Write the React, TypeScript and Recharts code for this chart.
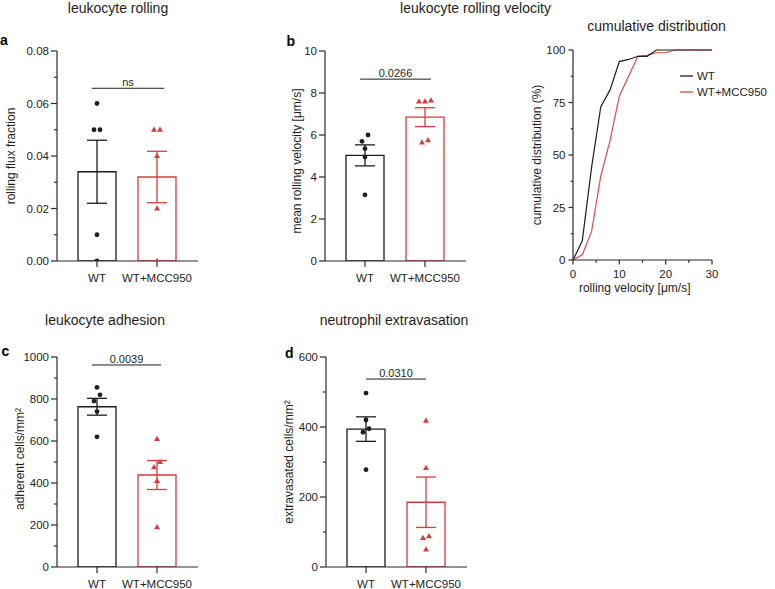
import React from 'react';
import {
  ComposedChart,
  LineChart,
  Bar,
  Cell,
  ErrorBar,
  Scatter,
  Line,
  XAxis,
  YAxis,
  ReferenceLine,
  Legend
} from 'recharts';

const groups = ['WT', 'WT+MCC950'];

// a: leukocyte rolling
const rollingWT = [0.06, 0.05, 0.05, 0.01, 0.0];
const rollingMCC = [0.05, 0.05, 0.04, 0.02, 0.0];
const rollingMean = [0.034, 0.032];
const rollingSem = [0.012, 0.0098];

// b: mean rolling velocity
const velocityWT = [6.0, 5.7, 5.35, 4.95, 3.15];
const velocityMCC = [7.65, 7.6, 7.6, 5.75, 5.65];
const velocityMean = [5.03, 6.85];
const velocitySem = [0.5, 0.45];

// c: leukocyte adhesion
const adhesionWT = [855, 820, 790, 740, 620];
const adhesionMCC = [610, 500, 475, 410, 190];
const adhesionMean = [763, 438];
const adhesionSem = [40, 69];

// d: neutrophil extravasation
const extravasationWT = [497, 420, 395, 385, 278];
const extravasationMCC = [418, 283, 88, 83, 50];
const extravasationMean = [394, 185];
const extravasationSem = [35, 72];

// cumulative distribution of rolling velocity
const velocityBins = [0, 2, 4, 6, 8, 10, 12, 14, 16, 18, 20, 22, 24, 26, 28, 30];
const cumWT = [0, 9, 44, 73, 81, 94.5, 95.5, 97, 97, 100, 100, 100, 100, 100, 100, 100];
const cumMCC = [0, 2.5, 13.5, 40, 57, 78, 87.5, 97, 97.5, 98.7, 98.7, 100, 100, 100, 100, 100];

const FONT = '"Liberation Sans", Arial, Helvetica, sans-serif';
const BLACK = '#1e1e1e';
const RED = '#d83c3c';
const RED_LINE = '#e04a4a';
const AXIS = '#2a2a2a';

// spread points with nearly equal values side by side, like a beeswarm
function swarm(values: number[], group: number, tol: number, step = 0.1) {
  const sorted = [...values].sort((a, b) => a - b);
  const out: { x: number; y: number }[] = [];
  let cluster: number[] = [];
  const flush = () => {
    cluster.forEach((v, i) => out.push({ x: group + (i - (cluster.length - 1) / 2) * step, y: v }));
    cluster = [];
  };
  sorted.forEach((v) => {
    if (cluster.length && v - cluster[cluster.length - 1] > tol) flush();
    cluster.push(v);
  });
  flush();
  return out;
}

const isMajor = (v: number, major: number[]) => major.some((m) => Math.abs(m - v) < 1e-9);

const yTick = (major: number[], fmt: (v: number) => string, size: number, margin: number) =>
  (p: any) => {
    const ax = p.x + size + margin;
    const big = isMajor(p.payload.value, major);
    return (
      <g>
        <line x1={ax - (big ? size : size / 2)} x2={ax} y1={p.y} y2={p.y} stroke={AXIS} strokeWidth={1.2} />
        {big && (
          <text x={p.x} y={p.y} dy="0.36em" textAnchor="end" fontSize={11.5} fill={BLACK}>
            {fmt(p.payload.value)}
          </text>
        )}
      </g>
    );
  };

const xTick = (major: number[], size: number, margin: number) =>
  (p: any) => {
    const ay = p.y - size - margin;
    const big = isMajor(p.payload.value, major);
    return (
      <g>
        <line x1={p.x} x2={p.x} y1={ay} y2={ay + (big ? size : size * 0.6)} stroke={AXIS} strokeWidth={1.2} />
        {big && (
          <text x={p.x} y={p.y} dy="0.71em" textAnchor="middle" fontSize={11.5} fill={BLACK}>
            {p.payload.value}
          </text>
        )}
      </g>
    );
  };

const yTitle = (text: string, x: number, dy = 0) =>
  (props: any) => {
    const vb = props.viewBox;
    const cy = (vb && vb.height ? vb.y + vb.height / 2 : 155) + dy;
    return (
      <text x={x} y={cy} transform={`rotate(-90 ${x} ${cy})`} textAnchor="middle" fontSize={12} fill={BLACK}>
        {text}
      </text>
    );
  };

const dot = (p: any) => <circle cx={p.cx} cy={p.cy} r={2.4} fill={BLACK} />;
const tri = (p: any) => (
  <path d={`M${p.cx},${p.cy - 3.2} L${p.cx + 3},${p.cy + 2.1} L${p.cx - 3},${p.cy + 2.1} Z`} fill={RED} />
);

interface Sig {
  text: string;
  y: number;
  x1: number;
  x2: number;
}

interface BarPanelProps {
  left: number;
  top: number;
  means: number[];
  sems: number[];
  wt: number[];
  mcc: number[];
  max: number;
  ticks: number[];
  major: number[];
  fmt: (v: number) => string;
  yLabel: string;
  labelX: number;
  labelDy?: number;
  sig: Sig;
}

function BarPanel({ left, top, means, sems, wt, mcc, max, ticks, major, fmt, yLabel, labelX, labelDy = 0, sig }: BarPanelProps) {
  const data = groups.map((g, i) => ({
    group: g,
    mean: means[i],
    semWT: i === 0 ? sems[i] : undefined,
    semMCC: i === 1 ? sems[i] : undefined
  }));
  const tol = max * 0.032;
  const pad = { left: 10, right: 11 };

  return (
    <div style={{ position: 'absolute', left, top }}>
      <ComposedChart width={210} height={291} data={data} margin={{ top: 51, right: 12, bottom: 0, left: 0 }}>
        <XAxis
          dataKey="group"
          type="category"
          height={30}
          padding={pad}
          tickSize={6}
          tickMargin={6.5}
          stroke={AXIS}
          strokeWidth={1.2}
          tick={{ fill: BLACK, fontSize: 11.5 }}
        />
        <XAxis xAxisId="num" dataKey="x" type="number" domain={[-0.5, 1.5]} padding={pad} hide />
        <YAxis
          width={57}
          domain={[0, max]}
          ticks={ticks}
          interval={0}
          allowDataOverflow
          tickLine={false}
          tickSize={6}
          tickMargin={2}
          stroke={AXIS}
          strokeWidth={1.2}
          tick={yTick(major, fmt, 6, 2)}
          label={yTitle(yLabel, labelX, labelDy)}
        />
        <Bar dataKey="mean" barSize={38} fill="#ffffff" strokeWidth={1.3} isAnimationActive={false}>
          {data.map((d, i) => (
            <Cell key={d.group} stroke={i === 0 ? BLACK : RED} />
          ))}
          <ErrorBar dataKey="semWT" width={10} stroke={BLACK} strokeWidth={1.3} />
          <ErrorBar dataKey="semMCC" width={10} stroke={RED} strokeWidth={1.3} />
        </Bar>
        <Scatter xAxisId="num" data={swarm(wt, 0, tol)} dataKey="y" shape={dot} isAnimationActive={false} />
        <Scatter xAxisId="num" data={swarm(mcc, 1, tol)} dataKey="y" shape={tri} isAnimationActive={false} />
        <ReferenceLine
          xAxisId="num"
          segment={[{ x: sig.x1, y: sig.y }, { x: sig.x2, y: sig.y }]}
          stroke={BLACK}
          strokeWidth={1}
          label={{ value: sig.text, position: 'top', offset: 2, fontSize: 11, fill: BLACK }}
        />
      </ComposedChart>
    </div>
  );
}

function CumulativePanel() {
  const data = velocityBins.map((v, i) => ({ v, wt: cumWT[i], mcc: cumMCC[i] }));
  const legendOrder = ['WT', 'WT+MCC950'];

  return (
    <div style={{ position: 'absolute', left: 516, top: 0 }}>
      <LineChart width={259} height={300} data={data} margin={{ top: 50, right: 63, bottom: 0, left: 0 }}>
        <XAxis
          dataKey="v"
          type="number"
          domain={[0, 30]}
          ticks={[0, 5, 10, 15, 20, 25, 30]}
          interval={0}
          height={40}
          tickLine={false}
          tickSize={4.5}
          tickMargin={5.5}
          stroke={AXIS}
          strokeWidth={1.2}
          tick={xTick([0, 10, 20, 30], 4.5, 5.5)}
          label={() => (
            <text x={118.7} y={292} textAnchor="middle" fontSize={12} fill={BLACK}>
              rolling velocity [μm/s]
            </text>
          )}
        />
        <YAxis
          width={57}
          domain={[0, 100]}
          ticks={[0, 12.5, 25, 37.5, 50, 62.5, 75, 87.5, 100]}
          interval={0}
          tickLine={false}
          tickSize={4.5}
          tickMargin={3}
          stroke={AXIS}
          strokeWidth={1.2}
          tick={yTick([0, 25, 50, 75, 100], (v) => String(v), 4.5, 3)}
          label={yTitle('cumulative distribution (%)', 25)}
        />
        <Legend
          layout="vertical"
          align="center"
          verticalAlign="middle"
          wrapperStyle={{ left: 164, top: 67.5, width: 'auto' }}
          content={(props: any) => {
            const items = [...(props.payload || [])].sort(
              (a: any, b: any) => legendOrder.indexOf(a.value) - legendOrder.indexOf(b.value)
            );
            return (
              <div>
                {items.map((it: any) => (
                  <div key={it.value} style={{ display: 'flex', alignItems: 'center', height: 16 }}>
                    <svg width={17} height={10}>
                      <line x1={0} x2={13} y1={5} y2={5} stroke={it.color} strokeWidth={1.3} />
                    </svg>
                    <span style={{ fontSize: 11.5, color: BLACK }}>{it.value}</span>
                  </div>
                ))}
              </div>
            );
          }}
        />
        <Line type="linear" dataKey="mcc" name="WT+MCC950" stroke={RED_LINE} strokeWidth={1.2} dot={false} isAnimationActive={false} />
        <Line type="linear" dataKey="wt" name="WT" stroke={BLACK} strokeWidth={1.2} dot={false} isAnimationActive={false} />
      </LineChart>
    </div>
  );
}

export default function App() {
  const title = { fontSize: 14, fill: BLACK, textAnchor: 'middle' as const };
  const letter = { fontSize: 14, fontWeight: 700, fill: '#000' };

  return (
    <div style={{ position: 'absolute', left: 0, top: 0, width: 775, height: 589, background: '#fff', fontFamily: FONT }}>
      <BarPanel
        left={0}
        top={0}
        means={rollingMean}
        sems={rollingSem}
        wt={rollingWT}
        mcc={rollingMCC}
        max={0.08}
        ticks={[0, 0.01, 0.02, 0.03, 0.04, 0.05, 0.06, 0.07, 0.08]}
        major={[0, 0.02, 0.04, 0.06, 0.08]}
        fmt={(v) => v.toFixed(2)}
        yLabel="rolling flux fraction"
        labelX={15}
        sig={{ text: 'ns', y: 0.0658, x1: -0.083, x2: 1.117 }}
      />
      <BarPanel
        left={268}
        top={0}
        means={velocityMean}
        sems={velocitySem}
        wt={velocityWT}
        mcc={velocityMCC}
        max={10}
        ticks={[0, 2, 4, 6, 8, 10]}
        major={[0, 2, 4, 6, 8, 10]}
        fmt={(v) => String(v)}
        yLabel="mean rolling velocity [μm/s]"
        labelX={32.5}
        labelDy={5}
        sig={{ text: '0.0266', y: 8.66, x1: -0.083, x2: 1.1 }}
      />
      <BarPanel
        left={0}
        top={306}
        means={adhesionMean}
        sems={adhesionSem}
        wt={adhesionWT}
        mcc={adhesionMCC}
        max={1000}
        ticks={[0, 100, 200, 300, 400, 500, 600, 700, 800, 900, 1000]}
        major={[0, 200, 400, 600, 800, 1000]}
        fmt={(v) => String(v)}
        yLabel="adherent cells/mm²"
        labelX={24}
        labelDy={-3}
        sig={{ text: '0.0039', y: 962, x1: -0.083, x2: 1.067 }}
      />
      <BarPanel
        left={269}
        top={306}
        means={extravasationMean}
        sems={extravasationSem}
        wt={extravasationWT}
        mcc={extravasationMCC}
        max={600}
        ticks={[0, 100, 200, 300, 400, 500, 600]}
        major={[0, 200, 400, 600]}
        fmt={(v) => String(v)}
        yLabel="extravasated cells/mm²"
        labelX={23.5}
        sig={{ text: '0.0310', y: 537, x1: 0, x2: 1 }}
      />
      <CumulativePanel />
      <svg width={775} height={589} style={{ position: 'absolute', left: 0, top: 0, pointerEvents: 'none' }}>
        <text x={118} y={13} {...title}>leukocyte rolling</text>
        <text x={475.5} y={13} {...title}>leukocyte rolling velocity</text>
        <text x={656.5} y={31} {...title}>cumulative distribution</text>
        <text x={105} y={325} {...title}>leukocyte adhesion</text>
        <text x={394} y={324.5} {...title}>neutrophil extravasation</text>
        <text x={0} y={45} {...letter}>a</text>
        <text x={286.5} y={46} {...letter}>b</text>
        <text x={1.5} y={355.5} {...letter}>c</text>
        <text x={285} y={357.5} {...letter}>d</text>
      </svg>
    </div>
  );
}
